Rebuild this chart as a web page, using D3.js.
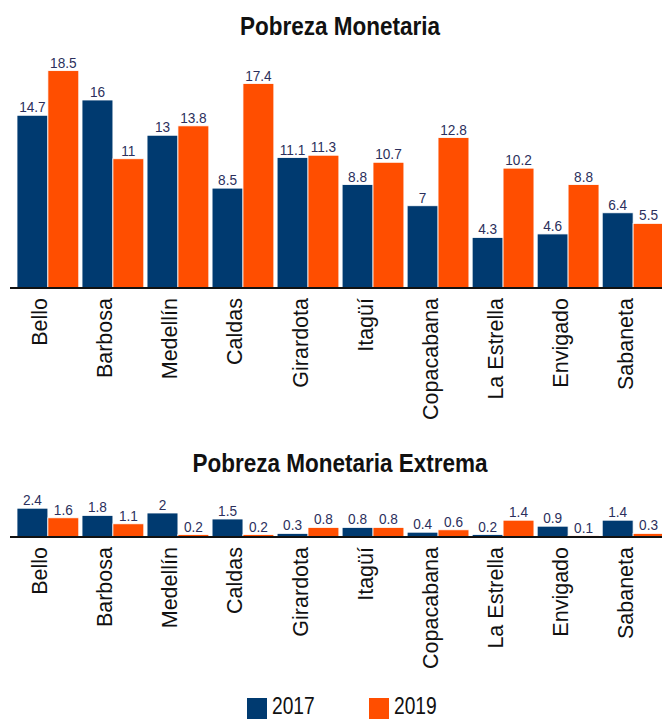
<!DOCTYPE html>
<html>
<head>
<meta charset="utf-8">
<script src="https://cdn.jsdelivr.net/npm/d3@7"></script>
<style>
  html, body { margin: 0; padding: 0; background: #fff; }
  svg { display: block; }
</style>
</head>
<body>
<script>
const categories = ["Bello", "Barbosa", "Medellín", "Caldas", "Girardota", "Itagüí", "Copacabana", "La Estrella", "Envigado", "Sabaneta"];
const years = ["2017", "2019"];
const pobreza2017 = [14.7, 16, 13, 8.5, 11.1, 8.8, 7, 4.3, 4.6, 6.4];
const pobreza2019 = [18.5, 11, 13.8, 17.4, 11.3, 10.7, 12.8, 10.2, 8.8, 5.5];
const extrema2017 = [2.4, 1.8, 2, 1.5, 0.3, 0.8, 0.4, 0.2, 0.9, 1.4];
const extrema2019 = [1.6, 1.1, 0.2, 0.2, 0.8, 0.8, 0.6, 1.4, 0.1, 0.3];
const titles = ["Pobreza Monetaria", "Pobreza Monetaria Extrema"];
const colors = { "2017": "#003A70", "2019": "#FF4E00" };

const W = 662, H = 719;
const svg = d3.select("body").append("svg").attr("width", W).attr("height", H);

const x0 = d3.scaleBand().domain(categories).range([17, 664]).paddingInner(0.05);
const x1 = d3.scaleBand().domain(years).range([0, x0.bandwidth()]);

const font = "'Liberation Sans', Arial, sans-serif";

// text squeezed horizontally to mimic a condensed face
function squeezed(sel, sx) {
  return sel.append("g").attr("transform", `scale(${sx},1)`);
}

function panel(title, titleY, v17, v19, yScale) {
  const g = svg.append("g");
  const tg = g.append("g").attr("transform", `translate(340,${titleY})`);
  squeezed(tg, 0.9).append("text")
    .attr("text-anchor", "middle")
    .style("font-family", font).style("font-weight", "bold").style("font-size", "25px")
    .attr("fill", "#111")
    .text(title);

  const rows = categories.map((c, i) => ({ c, vals: [{ y: "2017", v: v17[i] }, { y: "2019", v: v19[i] }] }));
  const base = yScale(0);
  const grp = g.selectAll("g.grp").data(rows).join("g")
    .attr("class", "grp")
    .attr("transform", d => `translate(${x0(d.c)},0)`);
  grp.selectAll("rect").data(d => d.vals).join("rect")
    .attr("x", d => x1(d.y))
    .attr("width", x1.bandwidth())
    .attr("y", d => yScale(d.v))
    .attr("height", d => base - yScale(d.v))
    .attr("fill", d => colors[d.y])
    .attr("stroke", "#fff").attr("stroke-width", 0.8);
  const vg = grp.selectAll("g.val").data(d => d.vals).join("g")
    .attr("class", "val")
    .attr("transform", d => `translate(${x1(d.y) + x1.bandwidth() / 2},${yScale(d.v) - 3})`);
  squeezed(vg, 0.88).append("text")
    .attr("text-anchor", "middle")
    .style("font-family", font).style("font-size", "15.5px")
    .attr("fill", "#2b2f5c")
    .text(d => d.v);

  g.append("line")
    .attr("x1", 10).attr("x2", W)
    .attr("y1", base).attr("y2", base)
    .attr("stroke", "#111").attr("stroke-width", 2);

  g.selectAll("text.cat").data(categories).join("text")
    .attr("class", "cat")
    .attr("transform", d => `translate(${x0(d) + x0.bandwidth() / 2 - 8},${base + 10}) rotate(-90)`)
    .attr("text-anchor", "end")
    .attr("dy", "0.35em")
    .style("font-family", font).style("font-size", "21.5px")
    .attr("fill", "#111")
    .text(d => d);
}

const yTop = d3.scaleLinear().domain([0, 20]).range([288, 288 - 235]);
const yBot = d3.scaleLinear().domain([0, 2.5]).range([537, 537 - 30]);

panel(titles[0], 35, pobreza2017, pobreza2019, yTop);
panel(titles[1], 472, extrema2017, extrema2019, yBot);

// legend
const legendX = [247, 369];
const leg = svg.append("g").selectAll("g").data(years).join("g")
  .attr("transform", (d, i) => `translate(${legendX[i]},698)`);
leg.append("rect").attr("width", 20).attr("height", 21).attr("fill", d => colors[d]);
const lt = leg.append("g").attr("transform", "translate(25,16)");
squeezed(lt, 0.8).append("text")
  .style("font-family", font).style("font-size", "24px")
  .attr("fill", "#111")
  .text(d => d);
</script>
</body>
</html>
